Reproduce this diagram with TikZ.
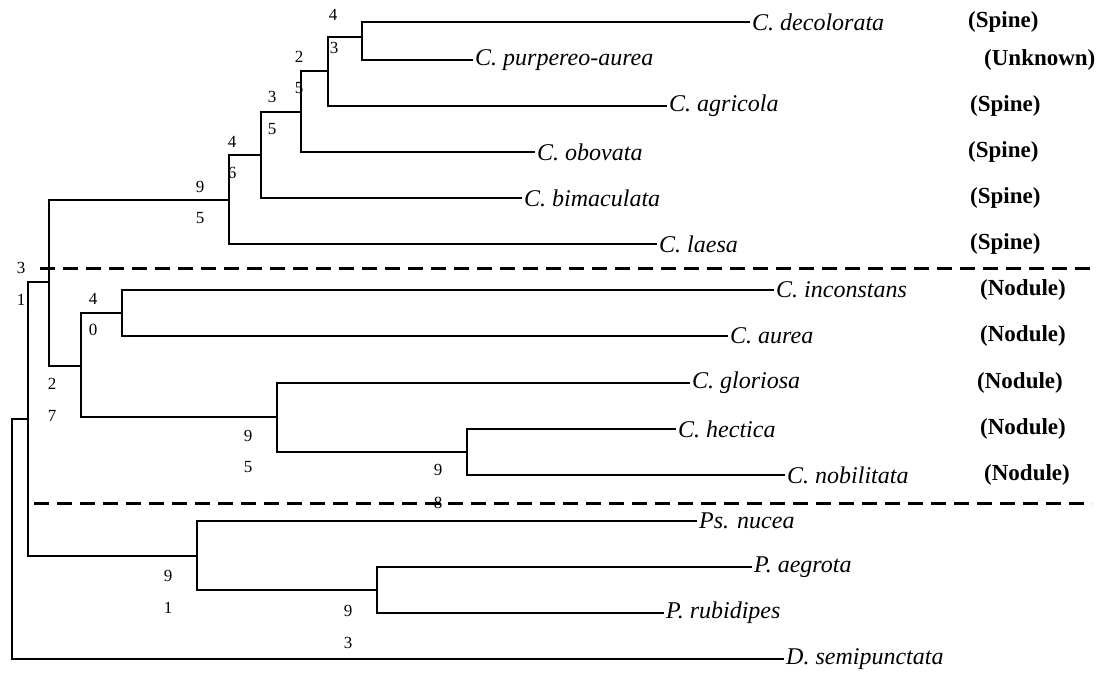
\documentclass[tikz,border=0pt]{standalone}
\usepackage{fontspec}
\setmainfont{Liberation Serif}
\begin{document}
\begin{tikzpicture}[x=1pt,y=-1pt,
  branch/.style={line width=1.6pt},
  leaf/.style={anchor=west,inner sep=2pt,font=\fontsize{24}{28}\selectfont\itshape},
  trait/.style={anchor=west,inner sep=0pt,font=\fontsize{23}{27}\selectfont\bfseries},
  boot/.style={inner sep=0pt,font=\fontsize{17}{20}\selectfont},
  divider/.style={line width=3pt,dash pattern=on 15pt off 8pt}]
\useasboundingbox (0,0) rectangle (1104,676);
\fill[white] (0,0) rectangle (1104,676);

% leaves
\node[leaf] (dec) at (750,22) {C. decolorata};
\node[leaf] (pur) at (473,60) {C. purpereo-aurea};
\node[leaf] (agr) at (667,106) {C. agricola};
\node[leaf] (obo) at (535,152) {C. obovata};
\node[leaf] (bim) at (522,198) {C. bimaculata};
\node[leaf] (lae) at (657,244) {C. laesa};
\node[leaf] (inc) at (774,290) {C. inconstans};
\node[leaf] (aur) at (728,336) {C. aurea};
\node[leaf] (glo) at (690,383) {C. gloriosa};
\node[leaf] (hec) at (676,429) {C. hectica};
\node[leaf] (nob) at (785,475) {C. nobilitata};
\node[leaf] (nuc) at (697,521) {Ps. nucea};
\node[leaf] (aeg) at (752,567) {P. aegrota};
\node[leaf] (rub) at (664,613) {P. rubidipes};
\node[leaf] (sem) at (784,659) {D. semipunctata};

% traits
\node[trait] (tdec) at (968,22) {(Spine)};
\node[trait] (tpur) at (984,60) {(Unknown)};
\node[trait] (tagr) at (970,106) {(Spine)};
\node[trait] (tobo) at (968,152) {(Spine)};
\node[trait] (tbim) at (970,198) {(Spine)};
\node[trait] (tlae) at (970,244) {(Spine)};
\node[trait] (tinc) at (980,290) {(Nodule)};
\node[trait] (taur) at (980,336) {(Nodule)};
\node[trait] (tglo) at (977,383) {(Nodule)};
\node[trait] (thec) at (980,429) {(Nodule)};
\node[trait] (tnob) at (984,475) {(Nodule)};

% internal nodes
\coordinate (n1) at (362,37);
\coordinate (n2) at (328,71);
\coordinate (n3) at (301,112);
\coordinate (n4) at (261,155);
\coordinate (n5) at (229,200);
\coordinate (n6) at (122,313);
\coordinate (n7) at (467,452);
\coordinate (n8) at (277,417);
\coordinate (n9) at (81,366);
\coordinate (n10) at (49,282);
\coordinate (n11) at (377,590);
\coordinate (n12) at (197,556);
\coordinate (n13) at (28,419);
\coordinate (root) at (12,419);

% branches
\draw[branch] (dec.west) -| (n1) |- (pur.west);
\draw[branch] (n1) -| (n2) |- (agr.west);
\draw[branch] (n2) -| (n3) |- (obo.west);
\draw[branch] (n3) -| (n4) |- (bim.west);
\draw[branch] (n4) -| (n5) |- (lae.west);
\draw[branch] (inc.west) -| (n6) |- (aur.west);
\draw[branch] (hec.west) -| (n7) |- (nob.west);
\draw[branch] (glo.west) -| (n8) |- (n7);
\draw[branch] (n6) -| (n9) |- (n8);
\draw[branch] (n5) -| (n10) |- (n9);
\draw[branch] (aeg.west) -| (n11) |- (rub.west);
\draw[branch] (nuc.west) -| (n12) |- (n11);
\draw[branch] (n10) -| (n13) |- (n12);
\draw[branch] (n13) -- (root) |- (sem.west);

% dividers
\coordinate (d1a) at (40,269);
\coordinate (d1b) at (1092,269);
\coordinate (d2a) at (34,503);
\coordinate (d2b) at (1092,503);
\draw[divider] (d1a) -- (d1b);
\draw[divider] (d2a) -- (d2b);

% bootstrap values
\node[boot] (b1a) at (333,15) {4};
\node[boot] (b1b) at (334,48) {3};
\node[boot] (b2a) at (299,57) {2};
\node[boot] (b2b) at (299,88) {5};
\node[boot] (b3a) at (272,97) {3};
\node[boot] (b3b) at (272,129) {5};
\node[boot] (b4a) at (232,142) {4};
\node[boot] (b4b) at (232,173) {6};
\node[boot] (b5a) at (200,187) {9};
\node[boot] (b5b) at (200,218) {5};
\node[boot] (b10a) at (21,268) {3};
\node[boot] (b10b) at (21,300) {1};
\node[boot] (b6a) at (93,299) {4};
\node[boot] (b6b) at (93,330) {0};
\node[boot] (b9a) at (52,384) {2};
\node[boot] (b9b) at (52,416) {7};
\node[boot] (b8a) at (248,436) {9};
\node[boot] (b8b) at (248,467) {5};
\node[boot] (b7a) at (438,470) {9};
\node[boot] (b7b) at (438,503) {8};
\node[boot] (b12a) at (168,576) {9};
\node[boot] (b12b) at (168,608) {1};
\node[boot] (b11a) at (348,611) {9};
\node[boot] (b11b) at (348,643) {3};
\end{tikzpicture}
\end{document}
